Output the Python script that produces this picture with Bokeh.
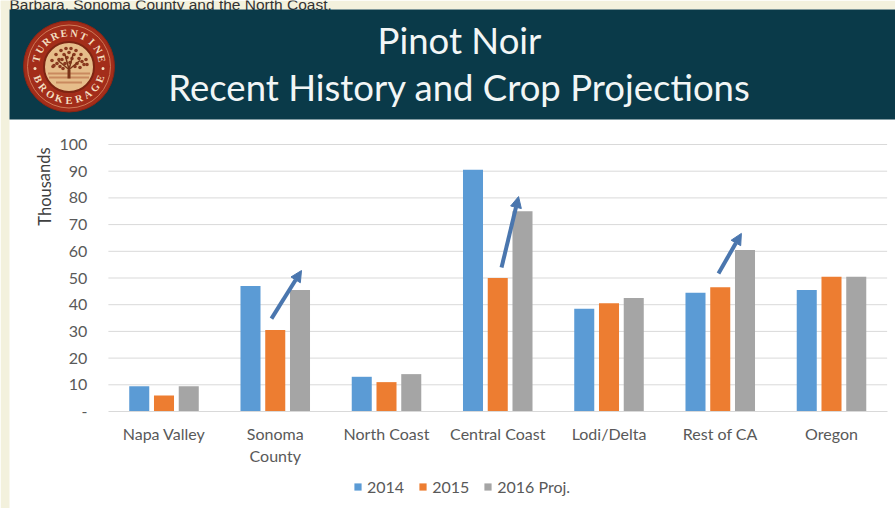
import math
from bokeh.plotting import figure
from bokeh.models import (Range1d, Legend, LegendItem, Arrow, NormalHead, FixedTicker, ColumnDataSource)
from bokeh.core.properties import value
from bokeh.embed import file_html
from bokeh.resources import INLINE

categories = ["Napa Valley", "Sonoma\nCounty", "North Coast", "Central Coast", "Lodi/Delta", "Rest of CA", "Oregon"]
series_names = ["2014", "2015", "2016 Proj."]
v2014 = [9.5, 47, 13, 90.5, 38.5, 44.5, 45.5]
v2015 = [6, 30.5, 11, 50, 40.5, 46.5, 50.5]
v2016 = [9.5, 45.5, 14, 75, 42.5, 60.5, 50.5]
colors = ["#5b9bd5", "#ed7d31", "#a5a5a5"]
yticks = list(range(0, 101, 10))
arrow_x_start = [0.966, 3.034, 4.984]
arrow_y_start = [34.8, 53.9, 51.7]
arrow_x_end = [1.236, 3.187, 5.19]
arrow_y_end = [52.8, 80.5, 66.7]

CREAM = "#f3f1dd"
BAND = "#0a3a49"
FONT = "Lato"
GREY = "#595959"

W, H = 895, 508
PX_PER_CAT = 111.25
PX_PER_Y = 2.67
X0_PX = 163.5   # pixel of category 0
Y0_PX = 411.0   # pixel of value 0


def fx(px):
    return (px - X0_PX) / PX_PER_CAT


def fy(py):
    return (Y0_PX - py) / PX_PER_Y


p = figure(width=W, height=H, output_backend="svg", toolbar_location=None,
           x_range=Range1d(fx(0), fx(W)), y_range=Range1d(fy(H), fy(0)), min_border=0,
           outline_line_color=None, background_fill_color="white", border_fill_color="white")

# page strip and header band
p.quad(left=[fx(0)], right=[fx(9)], top=[fy(0)], bottom=[fy(H)], fill_color=CREAM, line_color=None)
p.quad(left=[fx(0)], right=[fx(W)], top=[fy(0)], bottom=[fy(9)], fill_color=CREAM, line_color=None)
p.text(x=[fx(9)], y=[fy(4)], text=["Barbara, Sonoma County and the North Coast."], text_font=value("Liberation Sans"),
       text_font_size="15.5px", text_color="#333333", text_baseline="alphabetic")
p.quad(left=[fx(9)], right=[fx(W)], top=[fy(9)], bottom=[fy(119)], fill_color=BAND, line_color=None)
p.text(x=[fx(459)], y=[fy(39)], text=["Pinot Noir"], text_font=value(FONT), text_font_size="36.5px",
       text_color="#f2f6f6", text_align="center", text_baseline="middle")
p.text(x=[fx(459)], y=[fy(86)], text=["Recent History and Crop Projections"], text_font=value(FONT),
       text_font_size="36.5px", text_color="#f2f6f6", text_align="center", text_baseline="middle")

# logo
cx, cy = 68.5, 66
p.scatter(x=[fx(cx)], y=[fy(cy)], size=91, marker="circle", fill_color="#a32d1a", line_color="#8c2413")
p.scatter(x=[fx(cx)], y=[fy(cy)], size=83, marker="circle", fill_color=None, line_color="#cf7a58", line_width=1)
p.scatter(x=[fx(cx)], y=[fy(cy + 0.5)], size=50, marker="circle", fill_color="#e6bd8a", line_color="#7d2412", line_width=2)


def arc_text(word, mid_deg, step, r, top):
    n = len(word)
    xs, ys, ang = [], [], []
    for i in range(n):
        d = mid_deg + (i - (n - 1) / 2) * step * (1 if top else -1)
        a = math.radians(d)
        xs.append(fx(cx + r * math.sin(a)))
        ys.append(fy(cy - r * math.cos(a)))
        ang.append(-a if top else math.pi - a)
    p.text(x=xs, y=ys, text=list(word), angle=ang, text_font=value("Liberation Serif"), text_font_size="10.5px",
           text_font_style="bold", text_color="#f3dfc0", text_align="center", text_baseline="middle")


arc_text("TURRENTINE", 0, 17, 33.5, True)
arc_text("BROKERAGE", 180, 17, 33.5, False)
p.scatter(x=[fx(cx - 34), fx(cx + 34)], y=[fy(cy + 2)] * 2, size=3, marker="circle", fill_color="#f3dfc0", line_color=None)
# tree
p.segment(x0=[fx(cx - 21), fx(cx - 20), fx(cx - 13)], y0=[fy(cy + 7), fy(cy + 11), fy(cy + 16)],
          x1=[fx(cx + 21), fx(cx + 20), fx(cx + 13)], y1=[fy(cy + 7), fy(cy + 11), fy(cy + 16)],
          line_color="#c98a5f", line_width=2)
tree_x = [-17, -13, -8, -3, 2, 7, 12, 17, -15, -10, -5, 0, 5, 10, 15, -12, -7, -2, 3, 8, 13, 18, -16, -9, -4, 6, 11, -6, 1]
tree_y = [-6, -12, -16, -18, -18, -16, -12, -7, -1, -7, -12, -14, -12, -8, -2, -3, -7, -9, -8, -3, -5, -2, 0, 0, -3, 0, 1, 2, -4]
p.scatter(x=[fx(cx + a) for a in tree_x], y=[fy(cy + b) for b in tree_y], size=3.6, marker="circle",
          fill_color="#8a3a20", line_color=None)
p.segment(x0=[fx(cx)] * 5, y0=[fy(cy + 12), fy(cy + 3), fy(cy + 3), fy(cy + 3), fy(cy + 3)],
          x1=[fx(cx), fx(cx - 11), fx(cx + 11), fx(cx - 4), fx(cx + 4)],
          y1=[fy(cy + 3), fy(cy - 6), fy(cy - 6), fy(cy - 12), fy(cy - 12)],
          line_color="#7a3418", line_width=[3, 1.5, 1.5, 1.5, 1.5])

# gridlines spanning only the plot area
p.xgrid.visible = False
p.ygrid.visible = False
p.segment(x0=[-0.5] * 10, x1=[6.5] * 10, y0=yticks[1:], y1=yticks[1:], line_color="#d9d9d9", line_width=1)

offset = 0.2225
width = 0.18
renderers = []
for name, vals, col, off in zip(series_names, [v2014, v2015, v2016], colors, [-offset, 0, offset]):
    src = ColumnDataSource(dict(x=[i + off for i in range(len(categories))], top=vals))
    renderers.append(p.vbar(x="x", top="top", width=width, bottom=0, fill_color=col, line_color=None, source=src))

xa = p.xaxis[0]
xa.fixed_location = 0
xa.bounds = (-0.5, 6.5)
xa.ticker = FixedTicker(ticks=list(range(len(categories))))
xa.major_label_overrides = {i: c for i, c in enumerate(categories)}
xa.axis_line_color = "#d9d9d9"
xa.major_tick_line_color = None
xa.minor_tick_line_color = None
xa.major_label_text_font = FONT
xa.major_label_text_font_size = "16px"
xa.major_label_text_color = GREY
xa.major_label_standoff = 6

ya = p.yaxis[0]
ya.fixed_location = -0.5
ya.bounds = (0, 100)
ya.ticker = FixedTicker(ticks=yticks)
ya.major_label_overrides = {0: "-"}
ya.axis_line_color = None
ya.major_tick_line_color = None
ya.minor_tick_line_color = None
ya.major_label_text_font = FONT
ya.major_label_text_font_size = "16px"
ya.major_label_text_color = GREY
ya.major_label_standoff = 15

p.text(x=[fx(44)], y=[fy(186)], text=["Thousands"], angle=[math.pi / 2], text_font=value(FONT),
       text_font_size="16.5px", text_color="#404040", text_align="center", text_baseline="middle")

for xs, ys, xe, ye in zip(arrow_x_start, arrow_y_start, arrow_x_end, arrow_y_end):
    p.add_layout(Arrow(x_start=xs, y_start=ys, x_end=xe, y_end=ye, line_color="#4a76ae", line_width=4,
                       end=NormalHead(size=11, fill_color="#4a76ae", line_color="#4a76ae")))

legend = Legend(items=[LegendItem(label=value(n), renderers=[r]) for n, r in zip(series_names, renderers)],
                orientation="horizontal", location=(353, 12), border_line_color=None,
                background_fill_alpha=0, glyph_width=9, glyph_height=9, label_standoff=5, spacing=14,
                label_text_font=FONT, label_text_font_size="16px", label_text_color=GREY, padding=0, margin=0)
p.add_layout(legend, "center")

open("out.html", "w").write(file_html(p, INLINE))
